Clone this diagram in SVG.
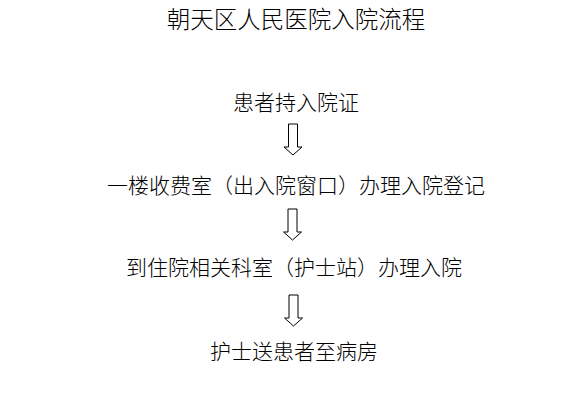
<svg xmlns="http://www.w3.org/2000/svg" width="575" height="402" viewBox="0 0 575 402">
<defs>
<style>
text{font-family:"Noto Sans CJK SC","Noto Sans CJK JP",sans-serif;fill:#000;text-anchor:middle;font-weight:300}
.step{font-size:21px}
.title{font-size:23.5px}
.arrow{fill:#fff;stroke:#000;stroke-width:1}
</style>
<path id="arr" d="M-5 0 H4 V23 H8.5 L-0.5 31 L-9.5 23 H-5 Z"/>
</defs>
<rect width="575" height="402" fill="#fff"/>
<g id="title"><text class="title" x="296" y="28">朝天区人民医院入院流程</text></g>
<g id="n1"><text class="step" x="296" y="110">患者持入院证</text></g>
<g id="n2"><text class="step" x="296" y="193">一楼收费室（出入院窗口）办理入院登记</text></g>
<g id="n3"><text class="step" x="294" y="275">到住院相关科室（护士站）办理入院</text></g>
<g id="n4"><text class="step" x="294" y="359">护士送患者至病房</text></g>
<g id="connectors">
<use href="#arr" class="arrow" x="293.5" y="124"/>
<use href="#arr" class="arrow" x="293" y="209"/>
<use href="#arr" class="arrow" x="294" y="295"/>
</g>
</svg>
